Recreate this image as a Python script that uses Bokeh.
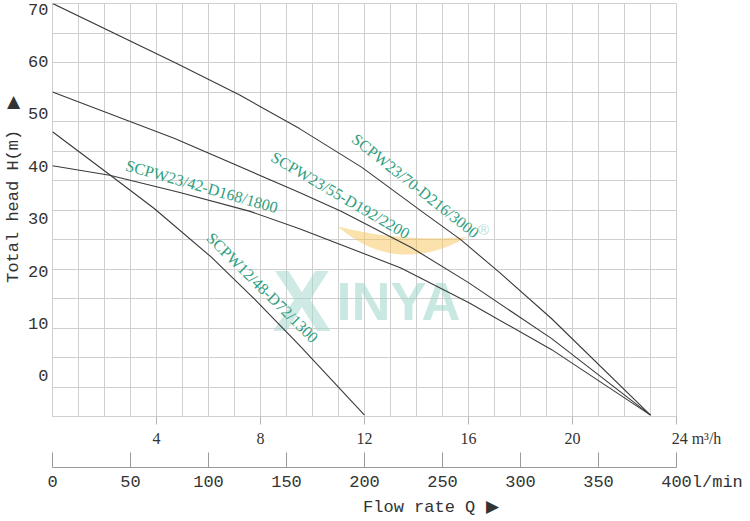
import numpy as np
from bokeh.plotting import figure
from bokeh.models import Range1d, LinearAxis, FixedTicker, ColumnDataSource
from bokeh.core.properties import value
from bokeh.embed import file_html
from bokeh.resources import INLINE

# ---------------- data ----------------
flow_m3h_ticks = [4, 8, 12, 16, 20, 24]
flow_lmin_ticks = [0, 50, 100, 150, 200, 250, 300, 350, 400]
head_ticks = [0, 10, 20, 30, 40, 50, 60, 70]

curve_names = ["SCPW23/70-D216/3000", "SCPW23/55-D192/2200",
               "SCPW23/42-D168/1800", "SCPW12/48-D72/1300"]

# flow Q in m3/h, head H in m
q_70 = [0, 4.8, 7.2, 9.5, 11.9, 14.2, 15.7, 17.2, 19.2, 23.0]
h_70 = [71.1, 59.6, 53.6, 47.2, 39.8, 31.4, 26.0, 19.7, 10.9, -7.5]

q_55 = [0, 4.7, 9.5, 11.1, 13.8, 16.0, 19.2, 23.0]
h_55 = [54.2, 45.3, 35.0, 31.4, 24.5, 17.8, 7.1, -7.5]

q_42 = [0, 2.2, 4.9, 7.6, 9.5, 13.4, 16.0, 19.2, 23.0]
h_42 = [40.1, 38.3, 35.0, 31.4, 28.1, 20.6, 14.0, 5.0, -7.5]

q_48 = [0, 2.2, 3.9, 6.1, 7.8, 9.5, 12.0]
h_48 = [46.6, 38.4, 32.0, 22.7, 14.5, 5.8, -7.5]

# ---------------- layout / style ----------------
Y_START, Y_END = -7.76, 71.08
X_START, X_END = 0, 24
N_HGRID = 14
GRID = "#cfcfcf"
TXT = "#333333"
TEAL = "#2f9e80"
NB = "\u00a0"

p = figure(width=750, height=521,
           x_range=Range1d(X_START, X_END), y_range=Range1d(Y_START, Y_END),
           output_backend="svg", toolbar_location=None,
           min_border_left=52, min_border_right=74,
           min_border_top=3, min_border_bottom=105)
p.background_fill_color = "white"
p.border_fill_color = "white"
p.outline_line_color = GRID

# grid
p.xgrid.ticker = FixedTicker(ticks=list(range(X_START, X_END + 1)))
p.ygrid.ticker = FixedTicker(ticks=[Y_START + k * (Y_END - Y_START) / N_HGRID
                                    for k in range(N_HGRID + 1)])
p.xgrid.grid_line_color = GRID
p.ygrid.grid_line_color = GRID

# y axis
ya = p.yaxis[0]
ya.ticker = FixedTicker(ticks=head_ticks)
ya.major_tick_in = 0
ya.major_tick_out = 0
ya.minor_tick_in = 0
ya.minor_tick_out = 0
ya.axis_line_color = None
ya.major_label_text_font = "Liberation Mono"
ya.major_label_text_font_size = "17px"
ya.major_label_text_color = TXT
ya.major_label_standoff = 4
ya.axis_label = NB * 4 + "Total head H(m)" + NB * 2 + "\u25b6"
ya.axis_label_text_font = "Liberation Mono"
ya.axis_label_text_font_style = "normal"
ya.axis_label_text_font_size = "17px"
ya.axis_label_text_color = TXT
ya.axis_label_standoff = 2

# m3/h axis (first below)
xa = p.xaxis[0]
xa.ticker = FixedTicker(ticks=flow_m3h_ticks)
xa.major_label_overrides = {24: NB * 10 + "24 m³/h"}
xa.major_tick_out = 8
xa.major_tick_in = 0
xa.minor_tick_in = 0
xa.minor_tick_out = 0
xa.axis_line_color = None
xa.major_tick_line_color = "#b5b5b5"
xa.major_label_text_font = "Liberation Serif"
xa.major_label_text_font_size = "16px"
xa.major_label_text_color = TXT
xa.major_label_standoff = 5
xa.axis_label = " "
xa.axis_label_text_font = "Liberation Serif"
xa.axis_label_text_font_size = "14px"
xa.axis_label_standoff = 0

# l/min axis (second below)
p.extra_x_ranges = {"lmin": Range1d(0, 400)}
xb = LinearAxis(x_range_name="lmin", ticker=FixedTicker(ticks=flow_lmin_ticks))
xb.major_label_overrides = {400: NB * 5 + "400l/min"}
xb.major_tick_in = 15
xb.major_tick_out = 0
xb.minor_tick_in = 0
xb.minor_tick_out = 0
xb.axis_line_color = "#9a9a9a"
xb.major_tick_line_color = "#9a9a9a"
xb.major_label_text_font = "Liberation Mono"
xb.major_label_text_font_size = "17px"
xb.major_label_text_color = TXT
xb.major_label_standoff = 5
xb.axis_label = NB * 13 + "Flow rate Q " + "\u25b6"
xb.axis_label_text_font = "Liberation Mono"
xb.axis_label_text_font_style = "normal"
xb.axis_label_text_font_size = "17px"
xb.axis_label_text_color = TXT
xb.axis_label_standoff = 3
p.add_layout(xb, "below")

# ---------- watermark (decoration) ----------
def rx(px):  # reference pixel -> data x
    return (px - 52) / 26.0

def ry(py):  # reference pixel -> data y
    return Y_END - (py - 1) * (Y_END - Y_START) / 415.5

t = np.linspace(0, 1, 24)
def quad(p0, c, p2):
    return ((1 - t) ** 2 * p0[0] + 2 * (1 - t) * t * c[0] + t ** 2 * p2[0],
            (1 - t) ** 2 * p0[1] + 2 * (1 - t) * t * c[1] + t ** 2 * p2[1])
tx, ty = quad((337, 225), (395, 241), (467, 236))
bx, by = quad((337, 225), (395, 276), (467, 236))
sx = [rx(v) for v in tx] + [rx(v) for v in bx[::-1]]
sy = [ry(v) for v in ty] + [ry(v) for v in by[::-1]]
p.patch(sx, sy, fill_color="#f7c65a", fill_alpha=0.5, line_color=None)

p.text(x=[rx(272)], y=[ry(300)], text=["X"], text_font=value("Liberation Sans"),
       text_font_style="bold", text_font_size="88px", text_color="#9fd6cb",
       text_alpha=0.5, text_baseline="alphabetic", text_align="left")
p.text(x=[rx(336)], y=[ry(300)], text=["INYA"], text_font=value("Liberation Sans"),
       text_font_style="bold", text_font_size="54px", text_color="#9fd6cb",
       text_alpha=0.55, text_baseline="alphabetic", text_align="left")
p.text(x=[rx(483)], y=[ry(228)], text=["®"], text_font=value("Liberation Sans"),
       text_font_size="15px", text_color="#9fd6cb", text_alpha=0.8,
       text_baseline="middle", text_align="center")

# ---------- curves ----------
for q, h in [(q_70, h_70), (q_55, h_55), (q_42, h_42), (q_48, h_48)]:
    p.line(q, h, line_color="#3a3a3a", line_width=1.1)

# curve labels
lab = ColumnDataSource(dict(
    x=[rx(415), rx(340), rx(201.3), rx(262)],
    y=[ry(184.5), ry(194.0), ry(185.0), ry(287)],
    text=curve_names,
    angle=[np.radians(-38.4), np.radians(-30.2), np.radians(-15.9), np.radians(-44.5)],
))
p.text(x="x", y="y", text="text", angle="angle", source=lab,
       text_font=value("Liberation Serif"), text_font_size="16px",
       text_color=TEAL, text_align="center", text_baseline="middle")

open("out.html", "w").write(file_html(p, INLINE))
